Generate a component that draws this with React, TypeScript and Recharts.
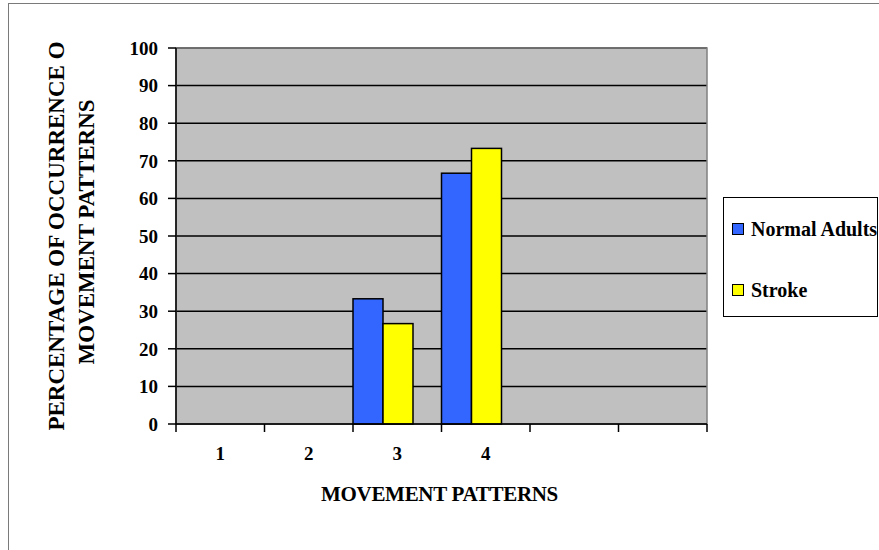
import React from "react";
import {
  BarChart,
  Bar,
  XAxis,
  YAxis,
  CartesianGrid,
  Legend,
  ReferenceArea,
} from "recharts";

const FONT = '"Liberation Serif", "Times New Roman", serif';

// categories on the x axis (the last two slots are empty in the original)
const patterns = ["1", "2", "3", "4", "", ""];
const normalAdults = [0, 0, 33.3, 66.7, null, null];
const strokeGroup = [0, 0, 26.7, 73.3, null, null];
const yTicks = [0, 10, 20, 30, 40, 50, 60, 70, 80, 90, 100];

const data = patterns.map((p, i) => ({
  pattern: p,
  normal: normalAdults[i],
  stroke: strokeGroup[i],
}));

const XTick = (props: any) => {
  const { x, y, payload, index, width, visibleTicksCount } = props;
  const half =
    payload && payload.offset != null
      ? payload.offset
      : width / (2 * (visibleTicksCount || patterns.length));
  const last = index === patterns.length - 1;
  return (
    <g>
      <line x1={x - half} y1={y} x2={x - half} y2={y + 8} stroke="#000" strokeWidth={1.5} />
      {last && (
        <line x1={x + half} y1={y} x2={x + half} y2={y + 8} stroke="#000" strokeWidth={1.5} />
      )}
      <text
        x={x}
        y={y + 36}
        textAnchor="middle"
        fontFamily={FONT}
        fontWeight="bold"
        fontSize={19}
        fill="#000"
      >
        {payload.value}
      </text>
    </g>
  );
};

const XTitle = ({ viewBox }: any) => (
  <text
    x={viewBox.x + viewBox.width / 2 - 2}
    y={viewBox.y + 77}
    textAnchor="middle"
    fontFamily={FONT}
    fontWeight="bold"
    fontSize={21}
    letterSpacing={-0.3}
    fill="#000"
  >
    MOVEMENT PATTERNS
  </text>
);

const YTitle = ({ viewBox }: any) => {
  const cy = viewBox.y + viewBox.height / 2;
  return (
    <g fontFamily={FONT} fontWeight="bold" fontSize={23} fill="#000">
      <text transform={`translate(64, ${cy}) rotate(-90)`} textAnchor="middle">
        PERCENTAGE OF OCCURRENCE O
      </text>
      <text transform={`translate(94, ${cy - 4}) rotate(-90)`} textAnchor="middle">
        MOVEMENT PATTERNS
      </text>
    </g>
  );
};

const BarShape = (props: any) => {
  const { x, y, width, height, fill } = props;
  if (!height || height <= 0) return null;
  return (
    <rect x={x} y={y} width={width} height={height} fill={fill} stroke="#000" strokeWidth={1.5} />
  );
};

const LegendBox = ({ payload }: any) => (
  <div
    style={{
      width: 155,
      height: 120,
      border: "1.5px solid #000",
      boxSizing: "border-box",
      position: "relative",
      background: "#fff",
      fontFamily: FONT,
      fontWeight: "bold",
      fontSize: 20,
      color: "#000",
    }}
  >
    {(payload || [])
      .filter((entry: any) => entry.type !== "none" && entry.dataKey !== "pad")
      .map((entry: any, i: number) => (
        <div
          key={entry.value}
          style={{
            position: "absolute",
            left: 8,
            top: 20 + i * 61,
            display: "flex",
            alignItems: "center",
            whiteSpace: "nowrap",
            lineHeight: "22px",
          }}
        >
          <span
            style={{
              display: "inline-block",
              width: 10,
              height: 10,
              background: entry.color,
              border: "1px solid #000",
              marginRight: 7,
            }}
          />
          {entry.value}
        </div>
      ))}
  </div>
);

export default function App() {
  return (
    <div
      style={{
        position: "fixed",
        left: 0,
        top: 0,
        width: 879,
        height: 550,
        overflow: "hidden",
        background: "#fff",
      }}
    >
      <div
        style={{
          position: "absolute",
          left: 8,
          top: 3,
          width: 900,
          height: 600,
          border: "1px solid #7a7a7a",
        }}
      />
      <div style={{ position: "absolute", left: 0, top: 0 }}>
        <BarChart
          width={879}
          height={550}
          data={data}
          margin={{ top: 48, right: 172, left: 0, bottom: 0 }}
          barCategoryGap={0}
          barGap={0}
        >
          <CartesianGrid
            vertical={false}
            stroke="#000"
            strokeWidth={1.5}
            fill="#C0C0C0"
            fillOpacity={1}
          />
          <ReferenceArea y1={0} y2={100} fill="none" stroke="#808080" strokeWidth={1.5} />
          <XAxis
            dataKey="pattern"
            height={126}
            axisLine={{ stroke: "#000", strokeWidth: 1.5 }}
            tickLine={false}
            tickSize={0}
            tickMargin={0}
            interval={0}
            tick={<XTick />}
            label={<XTitle />}
          />
          <YAxis
            width={176}
            domain={[0, 100]}
            ticks={yTicks}
            interval={0}
            tickSize={8}
            tickMargin={10}
            axisLine={{ stroke: "#000", strokeWidth: 1.5 }}
            tickLine={{ stroke: "#000", strokeWidth: 1.5 }}
            tick={{ fill: "#000", fontFamily: FONT, fontWeight: "bold", fontSize: 19 }}
            label={<YTitle />}
          />
          <Legend
            layout="vertical"
            align="center"
            verticalAlign="middle"
            content={<LegendBox />}
            wrapperStyle={{ left: 723, top: 197, width: 155, height: 120 }}
          />
          <Bar
            dataKey="normal"
            name="Normal Adults"
            fill="#3366FF"
            stroke="#000"
            shape={<BarShape />}
            isAnimationActive={false}
          />
          <Bar
            dataKey="stroke"
            name="Stroke"
            fill="#FFFF00"
            stroke="#000"
            shape={<BarShape />}
            isAnimationActive={false}
          />
          {/* empty third slot so the pair sits at the left of each category, as in the original */}
          <Bar dataKey="pad" legendType="none" isAnimationActive={false} />
        </BarChart>
      </div>
    </div>
  );
}
